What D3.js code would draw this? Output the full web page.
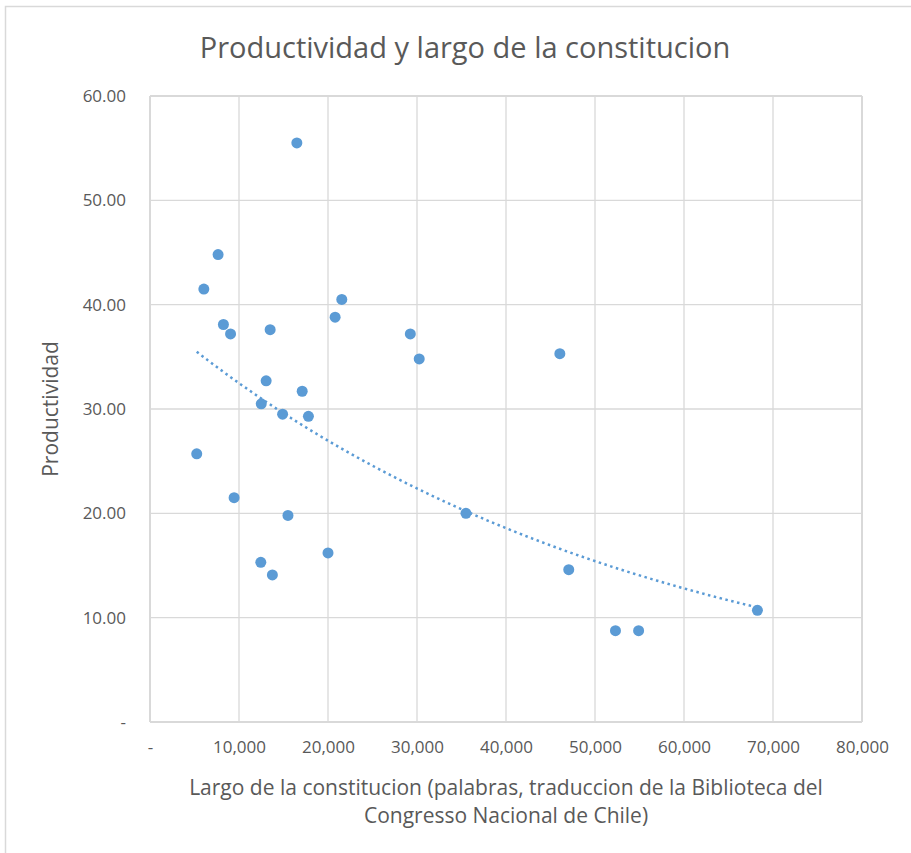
<!DOCTYPE html>
<html>
<head>
<meta charset="utf-8">
<script src="https://cdn.jsdelivr.net/npm/d3@7"></script>
<style>
  body { margin: 0; background: #fff; }
  text { font-family: "Open Sans", "Liberation Sans", sans-serif; fill: #595959; }
</style>
</head>
<body>
<div id="chart"></div>
<script>
// largo de la constitucion (palabras)
var largo = [16500, 7650, 6050, 21550, 20800, 8250, 9050, 13500, 29250, 30250,
             13050, 17100, 12500, 14900, 17800, 5250, 9450, 15500, 20000, 12450,
             13750, 46050, 35500, 47050, 52300, 54900, 68250];
// productividad
var productividad = [55.5, 44.8, 41.5, 40.5, 38.8, 38.1, 37.2, 37.6, 37.2, 34.8,
                     32.7, 31.7, 30.5, 29.5, 29.3, 25.7, 21.5, 19.8, 16.2, 15.3,
                     14.1, 35.3, 20.0, 14.6, 8.75, 8.75, 10.7];
var xTicks = [0, 10000, 20000, 30000, 40000, 50000, 60000, 70000, 80000];
var yTicks = [0, 10, 20, 30, 40, 50, 60];

var W = 911, H = 853;
var margin = { top: 96, right: 49, bottom: 131, left: 150 };
var width = W - margin.left - margin.right;
var height = H - margin.top - margin.bottom;

var puntos = largo.map(function (d, i) { return { x: d, y: productividad[i] }; });

var svg = d3.select("#chart").append("svg")
    .attr("width", W)
    .attr("height", H);

// borde del grafico
svg.append("rect")
    .attr("x", 5.5).attr("y", 6.5)
    .attr("width", 1000).attr("height", 1000)
    .attr("fill", "none")
    .attr("stroke", "#d9d9d9")
    .attr("stroke-width", 1.5);

var g = svg.append("g")
    .attr("transform", "translate(" + margin.left + "," + margin.top + ")");

var x = d3.scaleLinear().domain([0, 80000]).range([0, width]);
var y = d3.scaleLinear().domain([0, 60]).range([height, 0]);

// lineas de cuadricula
g.append("g").selectAll("line")
    .data(xTicks)
    .enter().append("line")
    .attr("x1", function (d) { return x(d); })
    .attr("x2", function (d) { return x(d); })
    .attr("y1", 0).attr("y2", height)
    .attr("stroke", "#d9d9d9")
    .attr("stroke-width", function (d, i) { return (i == 0 || i == xTicks.length - 1) ? 2 : 1.3; });

g.append("g").selectAll("line")
    .data(yTicks)
    .enter().append("line")
    .attr("y1", function (d) { return y(d); })
    .attr("y2", function (d) { return y(d); })
    .attr("x1", 0).attr("x2", width)
    .attr("stroke", "#d9d9d9")
    .attr("stroke-width", function (d, i) { return (i == 0 || i == yTicks.length - 1) ? 2 : 1.3; });

// ejes (solo etiquetas)
var fmtX = function (d) { return d == 0 ? "-" : d3.format(",")(d); };
var fmtY = function (d) { return d == 0 ? "-" : d3.format(".2f")(d); };

var xAxis = g.append("g")
    .attr("transform", "translate(0," + height + ")")
    .call(d3.axisBottom(x).tickValues(xTicks).tickFormat(fmtX).tickSize(0).tickPadding(19));
xAxis.select(".domain").remove();
xAxis.selectAll("text")
    .style("font-size", "17px")
    .style("font-family", "'Open Sans', sans-serif")
    .attr("fill", "#595959");

var yAxis = g.append("g")
    .call(d3.axisLeft(y).tickValues(yTicks).tickFormat(fmtY).tickSize(0).tickPadding(24));
yAxis.select(".domain").remove();
yAxis.selectAll("text")
    .style("font-size", "17px")
    .style("font-family", "'Open Sans', sans-serif")
    .attr("fill", "#595959");

// linea de tendencia exponencial (ajuste de ln(y) sobre x)
var mx = d3.mean(puntos, function (d) { return d.x; });
var my = d3.mean(puntos, function (d) { return Math.log(d.y); });
var sxy = d3.sum(puntos, function (d) { return (d.x - mx) * (Math.log(d.y) - my); });
var sxx = d3.sum(puntos, function (d) { return (d.x - mx) * (d.x - mx); });
var b = sxy / sxx;
var a = Math.exp(my - b * mx);
var xmin = d3.min(largo), xmax = d3.max(largo);
var tendencia = d3.range(0, 51).map(function (i) {
    var xv = xmin + (xmax - xmin) * i / 50;
    return { x: xv, y: a * Math.exp(b * xv) };
});

g.append("path")
    .datum(tendencia)
    .attr("fill", "none")
    .attr("stroke", "#5b9bd5")
    .attr("stroke-width", 2.5)
    .attr("stroke-dasharray", "2.5 3.5")
    .attr("d", d3.line().x(function (d) { return x(d.x); }).y(function (d) { return y(d.y); }));

// puntos
g.selectAll("circle")
    .data(puntos)
    .enter().append("circle")
    .attr("cx", function (d) { return x(d.x); })
    .attr("cy", function (d) { return y(d.y); })
    .attr("r", 5.5)
    .attr("fill", "#5b9bd5");

// titulo
svg.append("text")
    .attr("x", 465)
    .attr("y", 58)
    .attr("text-anchor", "middle")
    .style("font-size", "29px")
    .text("Productividad y largo de la constitucion");

// titulo eje Y
svg.append("text")
    .attr("transform", "translate(58," + (margin.top + height / 2) + ") rotate(-90)")
    .attr("text-anchor", "middle")
    .style("font-size", "21px")
    .text("Productividad");

// titulo eje X
svg.append("text")
    .attr("x", margin.left + width / 2)
    .attr("y", 795)
    .attr("text-anchor", "middle")
    .style("font-size", "21px")
    .text("Largo de  la constitucion (palabras, traduccion de la Biblioteca del");
svg.append("text")
    .attr("x", margin.left + width / 2)
    .attr("y", 823)
    .attr("text-anchor", "middle")
    .style("font-size", "21px")
    .text("Congresso Nacional de Chile)");
</script>
</body>
</html>
